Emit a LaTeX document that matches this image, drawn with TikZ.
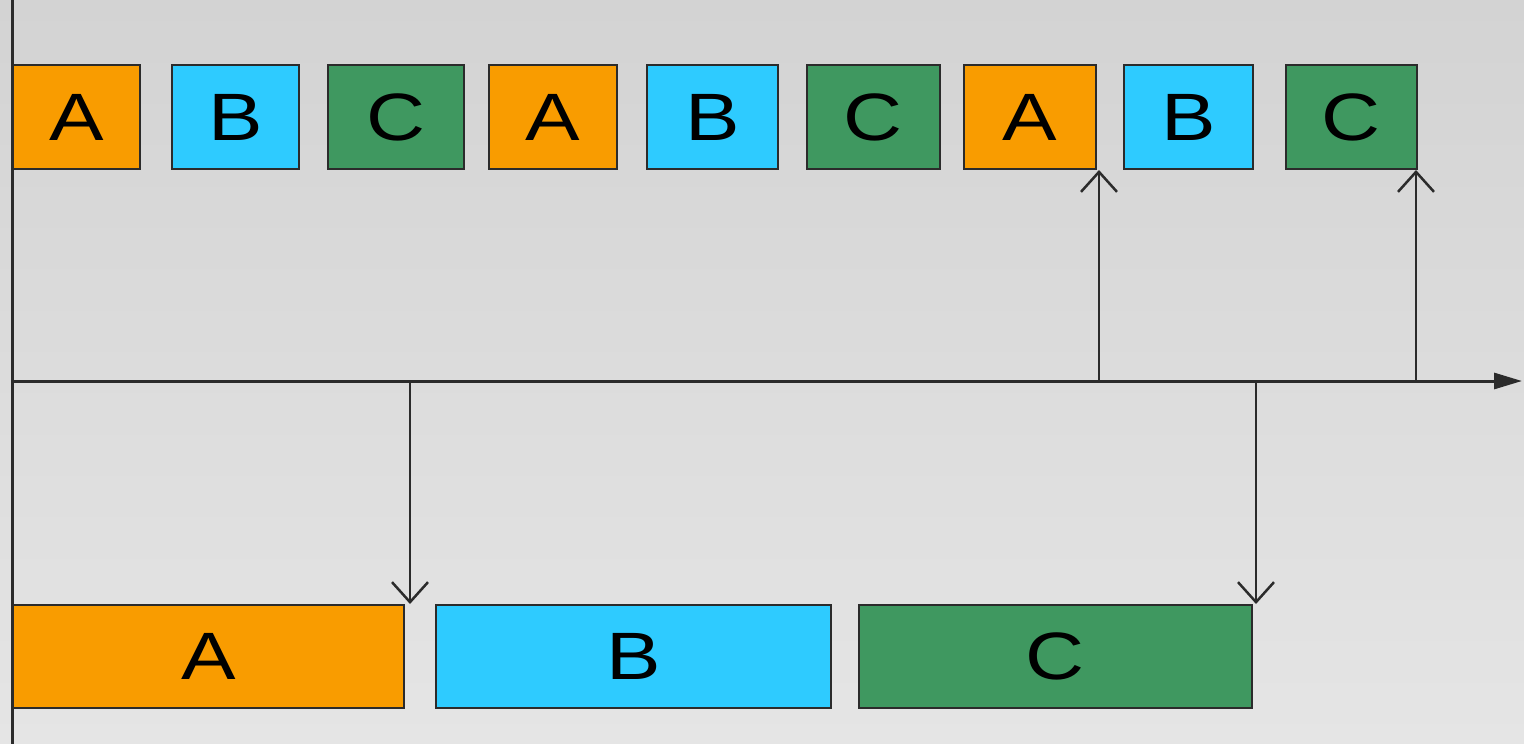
\documentclass[tikz,border=0pt]{standalone}
\usepackage{fontspec}
\setmainfont{Liberation Sans}
\usetikzlibrary{arrows.meta}
\definecolor{cA}{HTML}{F99C00}
\definecolor{cB}{HTML}{2ECBFF}
\definecolor{cC}{HTML}{3F9860}
\definecolor{ln}{HTML}{2B2B2B}
\definecolor{bgtop}{HTML}{D3D3D3}
\definecolor{bgbot}{HTML}{E5E5E5}
\newcommand{\wide}[1]{\scalebox{1.22}[1]{#1}}
\tikzset{
  blk/.style={draw=ln, line width=2pt, anchor=north west, inner sep=0pt,
    font=\fontsize{67}{67}\selectfont, text=black},
  small/.style={blk, minimum height=104pt},
  big/.style={blk, minimum height=103pt},
  axis/.style={ln, line width=3pt},
  ptr/.style={ln, line width=2.5pt, -{Straight Barb[length=20pt,width=36pt,line width=2.5pt]}},
}
\begin{document}
\begin{tikzpicture}[x=1pt,y=-1pt]
\useasboundingbox (0,0) rectangle (1524,744);
\shade[top color=bgtop, bottom color=bgbot] (0,0) rectangle (1524,744);
% top row
\node[small, fill=cA, minimum width=127pt] (t1) at (12,64) {\wide{A}};
\node[small, fill=cB, minimum width=127pt] (t2) at (171,64) {\wide{B}};
\node[small, fill=cC, minimum width=136pt] (t3) at (327,64) {\wide{C}};
\node[small, fill=cA, minimum width=128pt] (t4) at (488,64) {\wide{A}};
\node[small, fill=cB, minimum width=131pt] (t5) at (646,64) {\wide{B}};
\node[small, fill=cC, minimum width=133pt] (t6) at (806,64) {\wide{C}};
\node[small, fill=cA, minimum width=132pt] (t7) at (963,64) {\wide{A}};
\node[small, fill=cB, minimum width=129pt] (t8) at (1123,64) {\wide{B}};
\node[small, fill=cC, minimum width=131pt] (t9) at (1285,64) {\wide{C}};
% bottom row
\node[big, fill=cA, minimum width=391pt] (b1) at (12,604) {\wide{A}};
\node[big, fill=cB, minimum width=395pt] (b2) at (435,604) {\wide{B}};
\node[big, fill=cC, minimum width=393pt] (b3) at (858,604) {\wide{C}};
% axes
\coordinate (vtop) at (12,0);
\coordinate (vbot) at (12,744);
\coordinate (o) at (12,381);
\coordinate (xend) at (1522,381);
\draw[axis] (vtop) -- (vbot);
\draw[axis, -{Triangle[length=28pt,width=16pt]}] (o) -- (xend);
% pointers
\coordinate (u1) at (1099,381);
\coordinate (u2) at (1416,381);
\coordinate (d1) at (410,381);
\coordinate (d2) at (1256,381);
\draw[ptr] (u1) -- (u1 |- t7.south);
\draw[ptr] (u2) -- (u2 |- t9.south);
\draw[ptr] (d1) -- (d1 |- b1.north);
\draw[ptr] (d2) -- (d2 |- b3.north);
\end{tikzpicture}
\end{document}
